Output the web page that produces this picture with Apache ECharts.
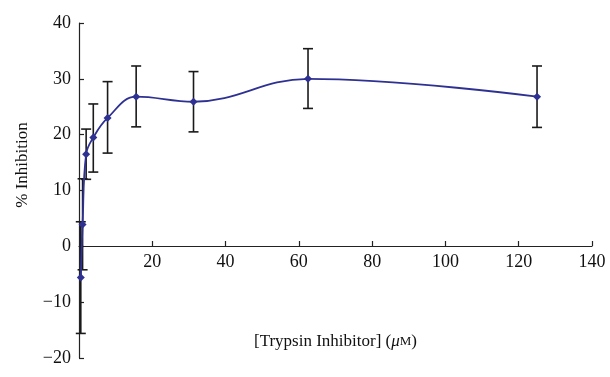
<!DOCTYPE html>
<html>
<head>
<meta charset="utf-8">
<script src="https://cdn.jsdelivr.net/npm/echarts@6/dist/echarts.min.js"></script>
<style>
  html, body { margin: 0; padding: 0; background: #fff; }
  #chart { width: 610px; height: 377px; }
</style>
</head>
<body>
<div id="chart"></div>
<script>
// concentrations (uM) and mean % inhibition
const concentrations = [0.49, 0.98, 1.95, 3.9, 7.8, 15.6, 31.25, 62.5, 125];
const inhibition = [-5.6, 3.9, 16.5, 19.5, 23, 26.8, 25.9, 30, 26.8];
const errLow = [-15.6, -4.2, 12, 13.3, 16.7, 21.4, 20.5, 24.7, 21.3];
const errHigh = [4.4, 12.1, 21, 25.5, 29.5, 32.3, 31.3, 35.4, 32.3];
const xTicks = [0, 20, 40, 60, 80, 100, 120, 140];
const yTicks = [-20, -10, 0, 10, 20, 30, 40];

const font = "Liberation Serif";
const lineColor = "#2e3192";

const points = concentrations.map((x, i) => [x, inhibition[i]]);
const bars = concentrations.map((x, i) => [x, errLow[i], errHigh[i]]);

const gridTop = 23;
const gridBottom = 19;
// x axis drawn where y = 0 (2/3 of the way down the plot)
const plotH = 377 - gridTop - gridBottom;
const zeroShift = -Math.round(plotH * (0 - yTicks[0]) / (yTicks[yTicks.length - 1] - yTicks[0]));

const chart = echarts.init(document.getElementById("chart"));

const option = {
  animation: false,
  grid: { left: 79, right: 18, top: gridTop, bottom: gridBottom, containLabel: false, outerBoundsMode: "none" },
  xAxis: {
    type: "value",
    min: xTicks[0],
    max: xTicks[xTicks.length - 1],
    interval: 20,
    offset: zeroShift,
    splitLine: { show: false },
    axisLine: { onZero: false, lineStyle: { color: "#222", width: 1.2 } },
    axisTick: { inside: true, length: 5, lineStyle: { color: "#222", width: 1.2 } },
    axisLabel: {
      showMinLabel: false,
      margin: 7,
      color: "#111",
      fontFamily: font,
      fontSize: 18
    },
    name: "[Trypsin Inhibitor] ({i|μ}{s|M})",
    nameLocation: "middle",
    nameGap: 87,
    nameTextStyle: {
      color: "#111",
      fontFamily: font,
      fontSize: 17,
      rich: {
        i: { fontFamily: font, fontStyle: "italic", fontSize: 17, color: "#111" },
        s: { fontFamily: font, fontSize: 13, color: "#111" }
      }
    }
  },
  yAxis: {
    type: "value",
    min: yTicks[0],
    max: yTicks[yTicks.length - 1],
    interval: 10,
    splitLine: { show: false },
    axisLine: { show: true, onZero: false, lineStyle: { color: "#222", width: 1.2 } },
    axisTick: { show: true, inside: true, length: 5, lineStyle: { color: "#222", width: 1.2 } },
    axisLabel: {
      margin: 8,
      color: "#111",
      fontFamily: font,
      fontSize: 18,
      formatter: v => (v < 0 ? "\u2212" + Math.abs(v) : String(v))
    }
  },
  graphic: [
    {
      type: "text",
      x: 23,
      y: 165,
      rotation: Math.PI / 2,
      style: {
        text: "% Inhibition",
        fontFamily: font,
        fontSize: 17,
        fill: "#111",
        align: "center",
        verticalAlign: "middle"
      }
    }
  ],
  series: [
    {
      type: "custom",
      data: bars,
      z: 1,
      renderItem: (params, api) => {
        const x = api.value(0);
        const lo = api.coord([x, api.value(1)]);
        const hi = api.coord([x, api.value(2)]);
        const cap = 5;
        const style = { stroke: "#1a1a1a", lineWidth: 1.6 };
        return {
          type: "group",
          children: [
            { type: "line", shape: { x1: lo[0], y1: lo[1], x2: hi[0], y2: hi[1] }, style },
            { type: "line", shape: { x1: lo[0] - cap, y1: lo[1], x2: lo[0] + cap, y2: lo[1] }, style },
            { type: "line", shape: { x1: hi[0] - cap, y1: hi[1], x2: hi[0] + cap, y2: hi[1] }, style }
          ]
        };
      }
    },
    {
      type: "line",
      data: points,
      smooth: 0.4,
      z: 3,
      symbol: "diamond",
      symbolSize: 8,
      itemStyle: { color: lineColor },
      lineStyle: { color: lineColor, width: 1.8 }
    }
  ]
};

chart.setOption(option);
</script>
</body>
</html>
